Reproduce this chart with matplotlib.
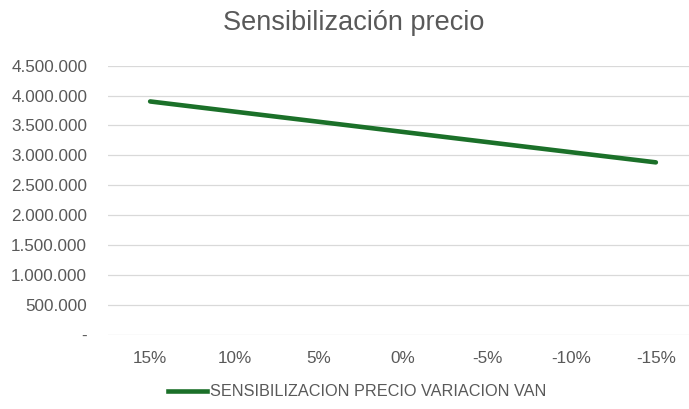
import matplotlib
matplotlib.use("Agg")
import matplotlib.pyplot as plt
from matplotlib.ticker import FuncFormatter, MultipleLocator
from matplotlib.lines import Line2D

# datos
categorias = ["15%", "10%", "5%", "0%", "-5%", "-10%", "-15%"]
van = [3902000, 3732000, 3562000, 3392000, 3222000, 3052000, 2883000]
serie = "SENSIBILIZACION PRECIO VARIACION VAN"
titulo = "Sensibilización precio"

GRIS = "#595959"
VERDE = "#1B7029"
plt.rcParams["font.family"] = ["Liberation Sans", "DejaVu Sans"]

fig = plt.figure(figsize=(6.89, 4.09), dpi=100)
W, H = 689, 409
x0, x1 = 108, 698
ytop, ybot = 65.7, 334.7
ax = fig.add_axes([x0 / W, 1 - ybot / H, (x1 - x0) / W, (ybot - ytop) / H])

x = range(len(categorias))
ax.plot(x, van, color=VERDE, lw=3.3, solid_capstyle="round")
ax.set_xlim(-0.5, len(categorias) - 0.5)
ax.set_ylim(0, 4500000)
ax.yaxis.set_major_locator(MultipleLocator(500000))


def miles(v, pos):
    if v == 0:
        return "-"
    return f"{v:,.0f}".replace(",", ".")


ax.yaxis.set_major_formatter(FuncFormatter(miles))
ax.set_xticks(list(x))
ax.set_xticklabels(categorias)
ax.grid(axis="y", color="#D9D9D9", lw=0.9)
ax.set_axisbelow(True)
for s in ax.spines.values():
    s.set_visible(False)
ax.tick_params(length=0, colors=GRIS, labelsize=12.3)
ax.tick_params(axis="y", pad=15)
ax.tick_params(axis="x", pad=12)

fig.text(354 / W, 1 - 23 / H, titulo, ha="center", va="center",
         fontsize=19.5, color=GRIS)

h = Line2D([], [], color=VERDE, lw=3.3)
fig.legend([h], [serie], loc="center", bbox_to_anchor=(357 / W, 1 - 392 / H),
           frameon=False, fontsize=11.7, labelcolor=GRIS, handlelength=2.4,
           handletextpad=0.2)

fig.savefig("out.png", dpi=100)
